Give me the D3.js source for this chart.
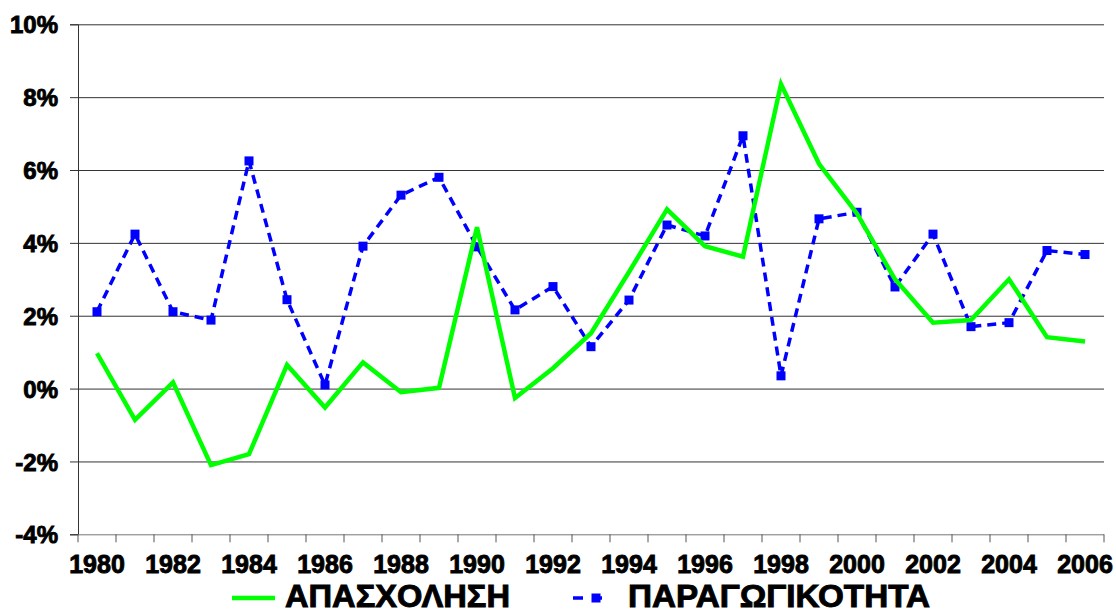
<!DOCTYPE html>
<html>
<head>
<meta charset="utf-8">
<script src="https://cdn.jsdelivr.net/npm/d3@7"></script>
<style>
  body { margin: 0; background: #fff; }
  svg text { font-family: Arial, "Liberation Sans", sans-serif; font-weight: 700; }
</style>
</head>
<body>
<div id="chart"></div>
<script>
const years = d3.range(1980, 2007);
const yearLabels = d3.range(1980, 2007, 2);
const yTicks = [-4, -2, 0, 2, 4, 6, 8, 10];

// ΑΠΑΣΧΟΛΗΣΗ (%)
const employment = [0.97, -0.86, 0.17, -2.10, -1.80, 0.65, -0.52, 0.72, -0.10, 0.02,
  4.43, -0.26, 0.56, 1.52, 3.20, 4.92, 3.91, 3.62, 8.36, 6.17,
  4.80, 3.00, 1.81, 1.88, 3.00, 1.41, 1.29];

// ΠΑΡΑΓΩΓΙΚΟΤΗΤΑ (%)
const productivity = [2.11, 4.24, 2.11, 1.88, 6.25, 2.44, 0.10, 3.91, 5.31, 5.80,
  3.89, 2.16, 2.80, 1.15, 2.43, 4.49, 4.19, 6.94, 0.35, 4.66,
  4.84, 2.79, 4.24, 1.70, 1.81, 3.79, 3.68];

const seriesNames = ["ΑΠΑΣΧΟΛΗΣΗ", "ΠΑΡΑΓΩΓΙΚΟΤΗΤΑ"];
const colorEmp = "#00ff00";
const colorProd = "#0000ff";

const width = 1116, height = 613;
const plotLeft = 78, plotRight = 1104, plotTop = 24.3, plotBottom = 534.3;

const svg = d3.select("#chart").append("svg")
  .attr("width", width)
  .attr("height", height);

const x = d3.scaleBand().domain(years).range([plotLeft, plotRight]);
const y = d3.scaleLinear().domain([-4, 10]).range([plotBottom, plotTop]);
const cx = (d) => x(d) + x.bandwidth() / 2;

// gridlines + y axis
svg.append("g")
  .attr("transform", `translate(${plotLeft},0)`)
  .call(d3.axisLeft(y).tickValues(yTicks).tickSize(8).tickFormat((d) => d + "%"))
  .call((g) => g.select(".domain").attr("stroke", "#333"))
  .call((g) => g.selectAll(".tick line").attr("stroke", "#333"))
  .call((g) => g.selectAll(".tick text")
    .attr("x", -20).attr("dy", "0.36em")
    .attr("fill", "#000").attr("font-size", 24)
    .attr("font-family", null))
  .call((g) => g.selectAll(".tick").append("line")
    .attr("x1", 0).attr("x2", plotRight - plotLeft)
    .attr("stroke", (d) => d === -4 ? "#777" : "#333")
    .attr("stroke-width", 1));

// x axis: ticks at category boundaries
const boundaries = years.map((d) => x(d)).concat([plotRight]);
svg.append("g")
  .selectAll("line")
  .data(boundaries)
  .join("line")
  .attr("x1", (d) => d).attr("x2", (d) => d)
  .attr("y1", plotBottom).attr("y2", plotBottom + 8)
  .attr("stroke", "#555");

svg.append("g")
  .selectAll("text")
  .data(yearLabels)
  .join("text")
  .attr("x", cx)
  .attr("y", 573)
  .attr("text-anchor", "middle")
  .attr("font-size", 25)
  .text((d) => d);

const line = d3.line().x((d, i) => cx(years[i])).y((d) => y(d));

svg.append("path")
  .datum(productivity)
  .attr("fill", "none")
  .attr("stroke", colorProd)
  .attr("stroke-width", 3.5)
  .attr("stroke-dasharray", "9,6")
  .attr("d", line);

svg.append("g")
  .selectAll("rect")
  .data(productivity)
  .join("rect")
  .attr("x", (d, i) => cx(years[i]) - 4.5)
  .attr("y", (d) => y(d) - 4.5)
  .attr("width", 9)
  .attr("height", 9)
  .attr("fill", colorProd);

svg.append("path")
  .datum(employment)
  .attr("fill", "none")
  .attr("stroke", colorEmp)
  .attr("stroke-width", 4.5)
  .attr("stroke-linejoin", "miter")
  .attr("d", line);

// legend
const legend = svg.append("g");
legend.append("line")
  .attr("x1", 232).attr("x2", 275).attr("y1", 598).attr("y2", 598)
  .attr("stroke", colorEmp).attr("stroke-width", 4.5);
const legendText = legend.append("text")
  .attr("x", 285).attr("y", 607)
  .attr("font-size", 31)
  .text(seriesNames[0]);

legend.append("line")
  .attr("x1", 573).attr("x2", 607).attr("y1", 598).attr("y2", 598)
  .attr("stroke", colorProd).attr("stroke-width", 3.5)
  .attr("stroke-dasharray", "10,9");
legend.append("rect")
  .attr("x", 591.5).attr("y", 593.5).attr("width", 9).attr("height", 9)
  .attr("fill", colorProd);
const legendText2 = legend.append("text")
  .attr("x", 628).attr("y", 607)
  .attr("font-size", 31)
  .text(seriesNames[1]);

// if no real bold face got picked up, thicken and widen the glyphs a little
if (legendText.node().getComputedTextLength() < 219) {
  svg.selectAll("text")
    .attr("stroke", "#000")
    .attr("stroke-width", 0.9)
    .attr("paint-order", "stroke");
  legendText.attr("textLength", 225).attr("lengthAdjust", "spacingAndGlyphs");
  legendText2.attr("textLength", 302).attr("lengthAdjust", "spacingAndGlyphs");
}
</script>
</body>
</html>
